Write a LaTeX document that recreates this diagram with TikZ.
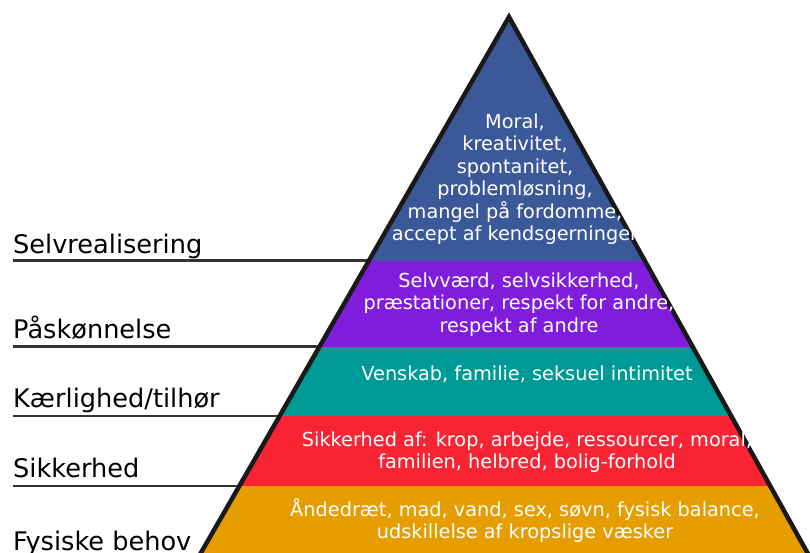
\documentclass[tikz,border=0pt]{standalone}
\usepackage{fontspec}
\setmainfont{DejaVu Sans}
\usepackage{tikz}
\usetikzlibrary{positioning,calc}
\definecolor{selvblue}{RGB}{59,89,152}
\definecolor{paaskpurple}{RGB}{128,29,221}
\definecolor{kaerligteal}{RGB}{0,154,150}
\definecolor{sikkerred}{RGB}{248,36,52}
\definecolor{fysiskorange}{RGB}{230,157,0}
\tikzstyle{level label} = [
	anchor = base west,
	inner sep = 0pt,
	text = black,
	font = \fontsize{25.6}{30}\selectfont
]
\tikzstyle{level line} = [draw = black!80, line width = 2.4pt]
\tikzstyle{band text} = [
	anchor = north,
	inner sep = 0pt,
	align = center,
	text = white,
	font = \fontsize{19.3}{22.5}\selectfont
]
\tikzstyle{pyramid} = [draw = black!90, line width = 4.5pt, line join = miter]

\begin{document}
\begin{tikzpicture}[x=1pt, y=-1pt]
	\useasboundingbox (0,0) rectangle (810,553);
	\clip (0,0) rectangle (810,553);
	\coordinate (apex) at (509,17);
	\coordinate (bl) at (173.8,600);
	\coordinate (br) at (833.7,600);
	
	% labels on the left
	\node [level label] (selvreal) at (13,253) {Selvrealisering};
	\node [level label] (paaskoen) at (13,338) {Påskønnelse};
	\node [level label] (kaerlig) at (13,407) {Kærlighed/tilhør};
	\node [level label] (sikker) at (13,477) {Sikkerhed};
	\node [level label] (fysisk) at (13,550) {Fysiske behov};
	
	\coordinate (selvrealL) at (13,260.5);
	\coordinate (selvrealR) at (369,260.5);
	\coordinate (paaskoenL) at (13,346.5);
	\coordinate (paaskoenR) at (319.5,346.5);
	\coordinate (kaerligL) at (13,416);
	\coordinate (kaerligR) at (279.6,416);
	\coordinate (sikkerL) at (13,486);
	\coordinate (sikkerR) at (239.3,486);
	
	\draw[level line] (selvrealL) -- (selvrealR);
	\draw[level line] (paaskoenL) -- (paaskoenR);
	\draw[level line] (kaerligL) -- (kaerligR);
	\draw[level line] (sikkerL) -- (sikkerR);
	
	% bands of the pyramid
	\begin{scope}
		\clip (apex) -- (bl) -- (br) -- cycle;
		\fill[selvblue] (150,0) rectangle (850,260.5);
		\fill[paaskpurple] (150,260.5) rectangle (850,346.5);
		\fill[kaerligteal] (150,346.5) rectangle (850,416);
		\fill[sikkerred] (150,416) rectangle (850,486);
		\fill[fysiskorange] (150,486) rectangle (850,600);
	\end{scope}
	\draw[pyramid] (apex) -- (bl) -- (br) -- cycle;
	
	% texts in the bands
	\node [band text] (selvrealtxt) at (515,113.3) {Moral,\\ kreativitet,\\ spontanitet,\\ problemløsning,\\ mangel på fordomme,\\ accept af kendsgerninger};
	\node [band text] (paaskoentxt) at (519,272.3) {Selvværd, selvsikkerhed,\\ præstationer, respekt for andre,\\ respekt af andre};
	\node [band text] (kaerligtxt) at (527,365.3) {Venskab, familie, seksuel intimitet};
	\node [band text] (sikkertxt) at (527,431.3) {Sikkerhed af: krop, arbejde, ressourcer, moral,\\ familien, helbred, bolig-forhold};
	\node [band text] (fysisktxt) at (525,498.3) {Åndedræt, mad, vand, sex, søvn, fysisk balance,\\ udskillelse af kropslige væsker};
	
\end{tikzpicture}
\end{document}
